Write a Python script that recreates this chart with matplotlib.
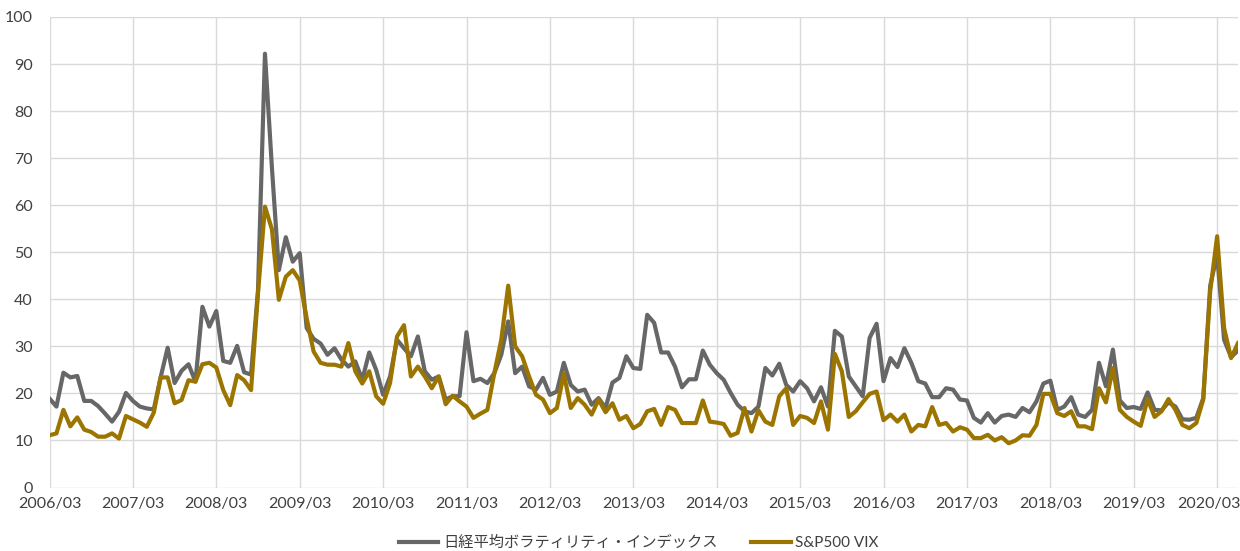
import matplotlib
matplotlib.use("Agg")
import matplotlib.pyplot as plt
import numpy as np
from matplotlib.transforms import ScaledTranslation

# Monthly data, 2006/03 .. 2020/06
nikkei_vi = [
    18.9, 17.2, 24.4, 23.4, 23.7, 18.4, 18.4, 17.3, 15.7, 14.0, 16.1, 20.1,
    18.4, 17.2, 16.8, 16.6, 23.5, 29.7, 22.2, 24.8, 26.2, 22.5, 38.4, 34.2,
    37.5, 26.9, 26.5, 30.1, 24.5, 24.0, 42.0, 92.2, 68.0, 46.2, 53.2, 48.0,
    49.8, 33.9, 31.6, 30.6, 28.2, 29.6, 27.2, 25.7, 26.8, 22.9, 28.7, 25.0,
    19.7, 23.6, 31.4, 29.6, 27.9, 32.1, 24.7, 22.9, 23.6, 18.7, 19.4, 19.4,
    33.0, 22.6, 23.1, 22.2, 24.3, 28.2, 35.3, 24.3, 25.7, 21.5, 20.8, 23.3,
    19.7, 20.4, 26.5, 21.8, 20.4, 20.8, 17.6, 19.0, 16.9, 22.3, 23.3, 27.9,
    25.4, 25.2, 36.7, 35.0, 28.7, 28.7, 25.7, 21.3, 23.0, 23.0, 29.1, 26.1,
    24.3, 22.9, 20.1, 17.6, 16.2, 15.8, 17.2, 25.4, 23.8, 26.3, 21.8, 20.4,
    22.6, 21.1, 18.3, 21.3, 17.2, 33.3, 32.1, 23.6, 21.5, 19.4, 31.8, 34.8,
    22.6, 27.5, 25.6, 29.6, 26.5, 22.6, 22.1, 19.2, 19.2, 21.1, 20.8, 18.7,
    18.5, 14.8, 13.8, 15.8, 13.8, 15.2, 15.5, 15.0, 16.9, 16.0, 18.3, 22.1,
    22.7, 16.5, 17.2, 19.2, 15.5, 15.0, 16.5, 26.5, 21.5, 29.3, 18.5, 16.9,
    17.1, 16.7, 20.2, 16.5, 16.4, 18.1, 17.2, 14.5, 14.4, 14.8, 19.0, 42.9,
    49.5, 31.4, 27.7, 29.1,
]

sp500_vix = [
    11.1, 11.5, 16.5, 13.0, 14.9, 12.3, 11.8, 10.8, 10.8, 11.5, 10.4, 15.2,
    14.5, 13.8, 12.9, 15.9, 23.4, 23.4, 17.9, 18.6, 22.8, 22.5, 26.2, 26.5,
    25.5, 20.7, 17.5, 23.9, 22.8, 20.7, 41.3, 59.7, 54.9, 39.9, 44.8, 46.2,
    44.0, 36.0, 28.9, 26.5, 26.1, 26.1, 25.7, 30.7, 24.7, 22.1, 24.7, 19.4,
    17.8, 22.2, 32.1, 34.5, 23.6, 25.7, 23.6, 21.1, 23.6, 17.7, 19.5, 18.3,
    17.2, 14.8, 15.7, 16.5, 24.3, 31.4, 42.9, 30.0, 27.9, 23.6, 19.7, 18.7,
    15.8, 16.9, 24.2, 16.9, 19.0, 17.6, 15.5, 18.7, 16.0, 17.9, 14.4, 15.2,
    12.6, 13.5, 16.2, 16.7, 13.3, 17.1, 16.5, 13.7, 13.7, 13.7, 18.5, 14.0,
    13.8, 13.5, 11.0, 11.6, 16.9, 11.9, 16.4, 14.0, 13.3, 19.4, 21.1, 13.3,
    15.2, 14.8, 13.7, 18.3, 12.3, 28.4, 24.7, 15.0, 16.2, 18.1, 19.9, 20.4,
    14.3, 15.5, 14.0, 15.5, 11.9, 13.3, 13.0, 17.1, 13.3, 13.7, 11.9, 12.8,
    12.3, 10.5, 10.5, 11.2, 10.0, 10.7, 9.4, 10.0, 11.1, 11.0, 13.3, 19.9,
    19.9, 15.8, 15.2, 16.2, 13.0, 13.0, 12.4, 21.1, 18.1, 25.4, 16.5, 15.0,
    14.0, 13.1, 18.8, 15.0, 16.2, 18.8, 16.5, 13.3, 12.6, 13.7, 18.7, 41.7,
    53.4, 33.9, 27.5, 30.7,
]

tick_labels = ["2006/03", "2007/03", "2008/03", "2009/03", "2010/03", "2011/03",
               "2012/03", "2013/03", "2014/03", "2015/03", "2016/03", "2017/03",
               "2018/03", "2019/03", "2020/03"]
series_names = ["日経平均ボラティリティ・インデックス", "S&P500 VIX"]

font_list = ["Lato", "Noto Sans CJK JP", "DejaVu Sans"]
plt.rcParams["font.family"] = font_list

fig = plt.figure(figsize=(12.4, 5.51), dpi=100)
ax = fig.add_axes([49.5 / 1240, 1 - 487.5 / 551, (1238 - 49.5) / 1240, (487.5 - 17) / 551])

x = np.arange(len(nikkei_vi))
ax.plot(x, nikkei_vi, color="#676767", lw=3.0, label=series_names[0],
        solid_joinstyle="round", zorder=3)
ax.plot(x, sp500_vix, color="#9C7500", lw=3.0, label=series_names[1],
        solid_joinstyle="round", zorder=4)

ax.set_xlim(0, len(nikkei_vi) - 1)
ax.set_ylim(0, 100)
ax.set_yticks(np.arange(0, 101, 10))
ax.set_xticks(np.arange(len(tick_labels)) * 12)
ax.set_xticklabels(tick_labels)

for s in ax.spines.values():
    s.set_visible(False)
ax.grid(True, color="#D9D9D9", lw=1.0)
ax.set_axisbelow(True)
ax.tick_params(axis="both", length=0, labelsize=11.5, colors="#404040")
ax.tick_params(axis="x", pad=7)
ax.tick_params(axis="y", pad=12)

# keep last date label inside the figure: right-align it just inside the edge
last = ax.get_xticklabels()[-1]
last.set_horizontalalignment("right")
last.set_transform(last.get_transform() + ScaledTranslation(23 / 100, 0, fig.dpi_scale_trans))

leg = fig.legend(loc="center", bbox_to_anchor=(0.515, 1 - 543 / 551), ncol=2,
                 frameon=False, fontsize=11, handlelength=2.6, handletextpad=0.3,
                 columnspacing=2.2)
for t in leg.get_texts():
    t.set_color("#404040")
for h in leg.get_lines():
    h.set_linewidth(3.0)

fig.savefig("out.png", dpi=100)
